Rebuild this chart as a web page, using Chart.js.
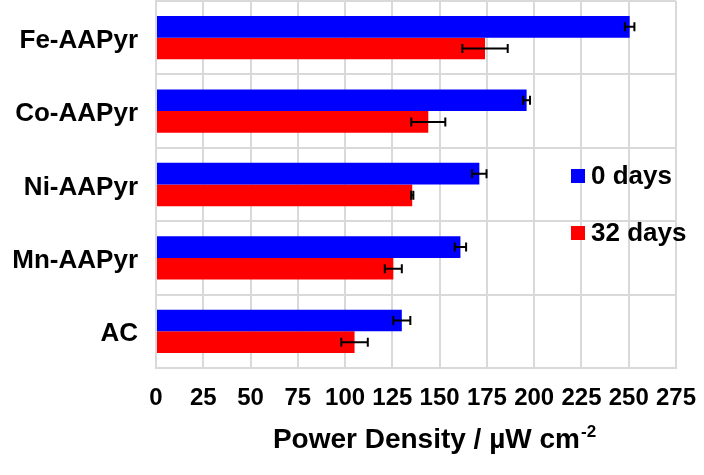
<!DOCTYPE html>
<html>
<head>
<meta charset="utf-8">
<script src="https://cdn.jsdelivr.net/npm/chart.js@4/dist/chart.umd.min.js"></script>
<style>
  html, body { margin: 0; padding: 0; background: #fff; }
</style>
</head>
<body>
<canvas id="powerChart" width="704" height="475"></canvas>
<script>
const categories = ['Fe-AAPyr', 'Co-AAPyr', 'Ni-AAPyr', 'Mn-AAPyr', 'AC'];
const seriesLabels = ['0 days', '32 days'];
const day0 = [250.5, 196, 171, 161, 130];
const day0Err = [2.5, 1.8, 3.8, 3, 4.5];
const day32 = [174, 144, 135.5, 125.5, 105];
const day32Err = [12, 9, 0.6, 4.5, 7];
const xMin = 0, xMax = 275, xStep = 25;

const FONT = '"Liberation Sans", Arial, sans-serif';

// error bars drawn from the bar elements and the x scale
const errorBars = {
  id: 'errorBars',
  afterDatasetsDraw(chart) {
    const ctx = chart.ctx;
    const xs = chart.scales.x;
    chart.data.datasets.forEach((ds, i) => {
      const meta = chart.getDatasetMeta(i);
      meta.data.forEach((bar, j) => {
        const v = ds.data[j], e = ds.errors[j];
        const x1 = xs.getPixelForValue(v - e);
        const x2 = xs.getPixelForValue(v + e);
        const y = bar.y;
        ctx.save();
        ctx.strokeStyle = '#000';
        ctx.lineWidth = 2;
        ctx.beginPath();
        ctx.moveTo(x1, y); ctx.lineTo(x2, y);
        ctx.moveTo(x1, y - 4.5); ctx.lineTo(x1, y + 4.5);
        ctx.moveTo(x2, y - 4.5); ctx.lineTo(x2, y + 4.5);
        ctx.stroke();
        ctx.restore();
      });
    });
  }
};

// legend over the plot, no background
const sideLegend = {
  id: 'sideLegend',
  afterDraw(chart) {
    const ctx = chart.ctx;
    const rows = [176, 233];
    ctx.save();
    ctx.font = 'bold 26px ' + FONT;
    ctx.textBaseline = 'middle';
    chart.data.datasets.forEach((ds, i) => {
      const y = rows[i];
      ctx.fillStyle = ds.backgroundColor;
      ctx.fillRect(571, y - 7, 14, 14);
      ctx.fillStyle = '#000';
      ctx.fillText(ds.label, 591, y + 1);
    });
    ctx.restore();
  }
};

// x axis title with superscript
const axisTitle = {
  id: 'axisTitle',
  afterDraw(chart) {
    const ctx = chart.ctx;
    ctx.save();
    ctx.fillStyle = '#000';
    ctx.textBaseline = 'alphabetic';
    const main = 'Power Density / µW cm';
    const sup = '-2';
    ctx.font = 'bold 28px ' + FONT;
    const w1 = ctx.measureText(main).width;
    ctx.font = 'bold 17px ' + FONT;
    const w2 = ctx.measureText(sup).width;
    const x0 = 434 - (w1 + w2) / 2;
    ctx.font = 'bold 28px ' + FONT;
    ctx.fillText(main, x0, 448);
    ctx.font = 'bold 17px ' + FONT;
    ctx.fillText(sup, x0 + w1 + 1, 437);
    ctx.restore();
  }
};

new Chart(document.getElementById('powerChart'), {
  type: 'bar',
  data: {
    labels: categories,
    datasets: [
      { label: seriesLabels[0], data: day0, errors: day0Err, backgroundColor: '#0000ff' },
      { label: seriesLabels[1], data: day32, errors: day32Err, backgroundColor: '#ff0000' }
    ]
  },
  options: {
    indexAxis: 'y',
    responsive: false,
    animation: false,
    categoryPercentage: 0.59,
    barPercentage: 1.0,
    layout: { padding: { top: 1, right: 28, left: 0, bottom: 0 } },
    plugins: {
      legend: { display: false },
      tooltip: { enabled: false }
    },
    scales: {
      x: {
        min: xMin,
        max: xMax,
        ticks: {
          stepSize: xStep,
          color: '#000',
          padding: 16,
          font: { family: FONT, size: 24, weight: 'bold' }
        },
        grid: { color: '#d9d9d9', lineWidth: 2, drawTicks: false },
        border: { color: '#d9d9d9', width: 2 },
        afterFit(scale) {
          scale.height = 107;
          scale.paddingLeft = 0;
          scale.paddingRight = 0;
        }
      },
      y: {
        ticks: {
          color: '#000',
          padding: 18,
          labelOffset: 3,
          font: { family: FONT, size: 26, weight: 'bold' }
        },
        grid: { color: '#d9d9d9', lineWidth: 2, drawTicks: false },
        border: { color: '#d9d9d9', width: 2 },
        afterFit(scale) {
          scale.width = 156;
          scale.paddingTop = 0;
          scale.paddingBottom = 0;
        }
      }
    }
  },
  plugins: [errorBars, sideLegend, axisTitle]
});
</script>
</body>
</html>
